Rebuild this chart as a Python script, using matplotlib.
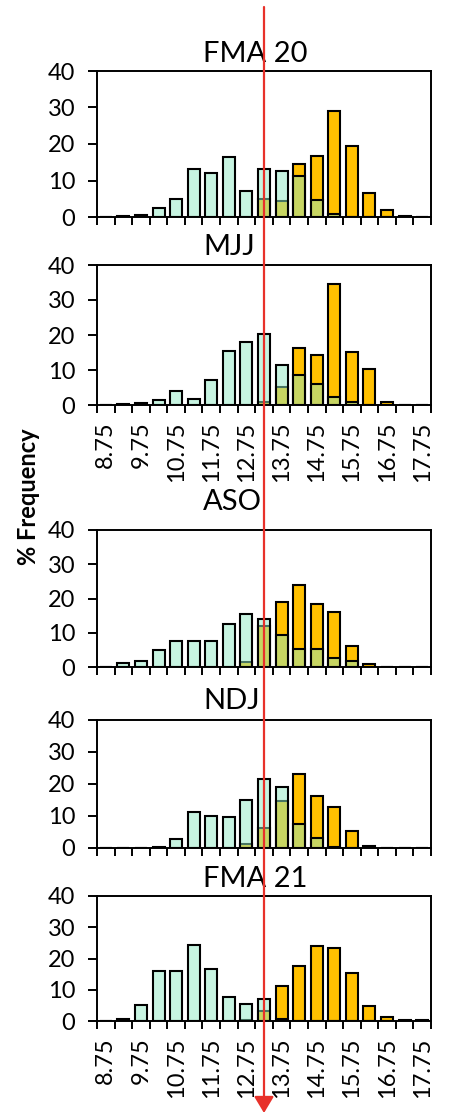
import numpy as np
import matplotlib
matplotlib.use("Agg")
import matplotlib.pyplot as plt
from matplotlib.patches import FancyArrowPatch

# bin centres (deg C) and % frequency per season
bins = [8.75, 9.25, 9.75, 10.25, 10.75, 11.25, 11.75, 12.25, 12.75, 13.25,
        13.75, 14.25, 14.75, 15.25, 15.75, 16.25, 16.75, 17.25, 17.75]
threshold = 13.25

fma20_cyan = [0, 0.3, 0.5, 2.6, 4.8, 13.2, 12.0, 16.4, 7.0, 13.2, 12.6, 11.1, 4.7, 0.8, 0, 0, 0, 0, 0]
fma20_orange = [0, 0, 0, 0, 0, 0, 0, 0, 0, 4.8, 4.4, 14.4, 16.8, 29.0, 19.4, 6.6, 1.8, 0.4, 0.1]

mjj_cyan = [0, 0.2, 0.6, 1.3, 3.9, 1.8, 7.2, 15.4, 18.0, 20.3, 11.5, 8.5, 5.9, 2.4, 1.0, 0, 0, 0, 0]
mjj_orange = [0, 0, 0, 0, 0, 0, 0, 0, 0, 0.9, 5.1, 16.4, 14.4, 34.5, 15.2, 10.4, 0.8, 0, 0]

aso_cyan = [0, 1.2, 1.7, 5.0, 7.6, 7.6, 7.6, 12.6, 15.4, 13.9, 9.4, 5.3, 5.3, 2.6, 1.7, 0, 0, 0, 0]
aso_orange = [0, 0, 0, 0, 0, 0, 0, 0, 1.5, 11.9, 19.1, 23.8, 18.4, 16.1, 6.1, 1.0, 0, 0, 0]

ndj_cyan = [0, 0, 0, 0.4, 2.9, 11.1, 10.1, 9.7, 15.0, 21.6, 19.1, 7.5, 3.1, 0.3, 0, 0, 0, 0, 0]
ndj_orange = [0, 0, 0, 0, 0, 0, 0, 0, 1.4, 6.4, 14.6, 23.1, 16.1, 12.7, 5.2, 0.6, 0, 0, 0]

fma21_cyan = [0, 0.6, 5.2, 15.9, 15.9, 24.3, 16.7, 7.7, 5.6, 7.0, 0.8, 0, 0, 0, 0, 0, 0, 0, 0]
fma21_orange = [0, 0, 0, 0, 0, 0, 0, 0, 0.4, 3.1, 11.3, 17.6, 24.1, 23.4, 15.5, 4.7, 1.3, 0.3, 0.3]

titles = ["FMA 20", "MJJ", "ASO", "NDJ", "FMA 21"]
cyans = [fma20_cyan, mjj_cyan, aso_cyan, ndj_cyan, fma21_cyan]
oranges = [fma20_orange, mjj_orange, aso_orange, ndj_orange, fma21_orange]

plt.rcParams['font.family'] = ['Lato', 'DejaVu Sans']

W, H = 450, 1114
fig = plt.figure(figsize=(W / 100, H / 100), dpi=100)

# layout in pixels: (top, bottom) of each axes, title baseline
boxes = [(71, 217), (265, 405), (530, 667), (720, 848), (896, 1021)]
title_y = [62, 255, 510, 709, 887]
show_labels = [False, True, False, False, True]

x = np.arange(len(bins))
axes = []
for i in range(5):
    top, bot = boxes[i]
    ax = fig.add_axes([97 / W, 1 - bot / H, 334 / W, (bot - top) / H])
    ax.bar(x, oranges[i], width=0.68, color='#FFC000', edgecolor='black', lw=1.5, zorder=2)
    ax.bar(x, cyans[i], width=0.68, color=(0.57, 0.92, 0.77, 0.5), edgecolor='black', lw=1.5, zorder=3)
    ax.set_xlim(-0.5, len(bins) - 0.5)
    ax.set_ylim(0, 40)
    ax.set_yticks([0, 10, 20, 30, 40])
    ax.set_xticks(np.arange(-0.5, len(bins)), labels=[])
    ax.tick_params(axis='x', which='major', direction='out', length=6, width=1.4)
    ax.tick_params(axis='y', direction='out', length=6.5, width=1.4, labelsize=17, pad=9)
    for s in ax.spines.values():
        s.set_linewidth(1.4)
    if show_labels[i]:
        ax.set_xticks(x[::2], labels=[f"{b:.2f}" for b in bins[::2]], minor=True)
        ax.tick_params(axis='x', which='minor', length=0, labelrotation=90, labelsize=17, pad=12)
    fig.text(203 / W, 1 - title_y[i] / H, titles[i], fontsize=21, ha='left', va='baseline')
    axes.append(ax)

fig.text(28 / W, 1 - 497 / H, "% Frequency", rotation=90, fontsize=17, fontweight='bold',
         ha='center', va='center')

# red threshold arrow through all panels
idx = bins.index(threshold)
xf = fig.transFigure.inverted().transform(axes[-1].transData.transform((idx, 0)))[0]
arrow = FancyArrowPatch((xf, 1 - 7 / H), (xf, 1 - 1113 / H), transform=fig.transFigure,
                        arrowstyle='-|>,head_length=0.5,head_width=0.3', mutation_scale=20,
                        color='#E8312A', lw=1.6, shrinkA=0, shrinkB=0, zorder=10)
fig.add_artist(arrow)

fig.savefig("out.png", dpi=100)
